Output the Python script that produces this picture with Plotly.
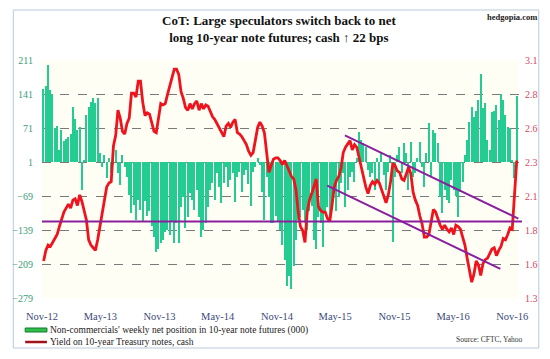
import datetime as dt
import plotly.graph_objects as go

# ---------------- data ----------------
start_date = dt.date(2012, 11, 6)
net_positions = [
    152, 158, 200, 150, 140, 72, 76, 26, 66, 44, 48, 52, 58, 115, 90, 66, 74, -56,
    5, 97, 114, 124, 132, 122, 132, 19, -9, 15, -32, 10, -22, -5, 26, -22, -46, 15,
    -10, -30, -67, -104, -87, -118, -77, -97, -122, -80, -110, -100, -130, -153, -185, -179,
    -165, -159, -144, -138, -150, -120, -165, -124, -165, -91, -71, -134, -112, -62, -77, -97,
    -56, -112, -153, -138, -124, -91, -56, -42, -77, -22, -50, -83, -42, -9, -50, -36,
    -22, -81, -30, -20, -60, -25, -15, -45, -90, -20, -10, 9, -5, -60, -118, -30,
    -71, -124, -124, -110, -120, -138, -170, -200, -255, -234, -261, -214, -159, -118, -112, -97,
    -124, -138, -100, -90, -159, -179, -112, -124, -173, -104, -91, -120, -80, -60, -100, -71,
    -42, -22, -91, -56, -30, -20, -40, 10, 62, 46, 40, 32, -15, -30, -22, -56,
    10, -40, 20, -25, -56, -20, 15, -163, -30, 15, 32, -22, 40, 19, -56, 42,
    -30, -22, 10, 42, -10, -50, 20, 81, -30, 67, 60, 40, -71, -104, -56, -77,
    -83, -36, -56, -70, -112, -60, -40, 15, 46, 83, 114, 93, 107, 128, 183, 112,
    122, 46, 26, 103, 107, 118, 87, 142, 128, 97, 73, 71, 5, -32, 136,
]
yields = [
    1.58, 1.66, 1.70, 1.69, 1.72, 1.75, 1.78, 1.84, 1.89, 1.95, 1.98, 2.01, 1.98, 2.04, 2.05, 2.00,
    2.08, 2.03, 1.96, 1.89, 1.74, 1.70, 1.68, 1.66, 1.74, 1.84, 1.93, 2.02, 2.14, 2.17, 2.18, 2.45,
    2.53, 2.72, 2.66, 2.56, 2.54, 2.62, 2.66, 2.85, 2.85, 2.82, 2.94, 2.94, 2.78, 2.68, 2.70, 2.69,
    2.63, 2.56, 2.55, 2.66, 2.77, 2.76, 2.77, 2.84, 2.90, 2.95, 3.03, 3.03, 2.99, 2.86, 2.81, 2.74,
    2.72, 2.77, 2.73, 2.77, 2.79, 2.72, 2.77, 2.73, 2.76, 2.75, 2.71, 2.67, 2.65, 2.62, 2.58, 2.56,
    2.52, 2.60, 2.62, 2.59, 2.63, 2.65, 2.55, 2.54, 2.52, 2.49, 2.46, 2.41, 2.38, 2.40, 2.50, 2.59,
    2.63, 2.60, 2.55, 2.40, 2.25, 2.30, 2.35, 2.36, 2.36, 2.34, 2.31, 2.34, 2.30, 2.25, 2.22, 2.20,
    2.12, 1.95, 1.84, 1.81, 1.72, 1.95, 2.04, 2.09, 2.15, 2.20, 1.99, 1.96, 1.95, 1.95, 1.90, 1.88,
    2.00, 2.14, 2.19, 2.22, 2.28, 2.40, 2.44, 2.47, 2.49, 2.42, 2.46, 2.44, 2.36, 2.30, 2.20, 2.14,
    2.09, 2.15, 2.18, 2.16, 2.19, 2.17, 2.12, 2.06, 2.02, 2.08, 2.18, 2.32, 2.30, 2.26, 2.25, 2.20,
    2.19, 2.24, 2.29, 2.24, 2.10, 2.04, 2.00, 1.92, 1.86, 1.76, 1.76, 1.78, 1.87, 1.97, 1.95, 1.90,
    1.85, 1.82, 1.85, 1.82, 1.80, 1.83, 1.78, 1.85, 1.84, 1.82, 1.75, 1.70, 1.60, 1.50, 1.42, 1.48,
    1.58, 1.55, 1.47, 1.56, 1.59, 1.60, 1.63, 1.67, 1.68, 1.62, 1.66, 1.69, 1.75, 1.74, 1.78, 1.83,
    1.82, 2.12, 2.34,
]
dates = [start_date + dt.timedelta(days=7 * i) for i in range(len(net_positions))]

# trend lines drawn on the chart (dates, yield levels)
upper_trend_dates = ["2015-05-31", "2016-11-20"]
upper_trend_yields = [2.53, 1.90]
lower_trend_dates = ["2015-04-06", "2016-09-25"]
lower_trend_yields = [2.15, 1.52]
support_level = 1.878

left_ticks = [-279, -209, -139, -69, 1, 71, 141, 211]
right_tick_text = ["1.3", "1.6", "1.8", "2.1", "2.3", "2.6", "2.8", "3.1"]
x_tick_dates = ["2012-11-01", "2013-05-01", "2013-11-01", "2014-05-01", "2014-11-01",
                "2015-05-01", "2015-11-01", "2016-05-01", "2016-11-01"]
x_tick_text = ["Nov-12", "May-13", "Nov-13", "May-14", "Nov-14", "May-15", "Nov-15", "May-16", "Nov-16"]

# ---------------- figure ----------------
W, H = 550, 359
ML, MR, MT, MB = 38, 30, 60, 61
PW, PH = W - ML - MR, H - MT - MB
lo, hi = left_ticks[0], left_ticks[-1]
ylo, yhi = float(right_tick_text[0]), float(right_tick_text[-1])
right_tick_vals = [ylo + (v - lo) / (hi - lo) * (yhi - ylo) for v in left_ticks]

def px(x):
    return (x - ML) / PW

def py(y):
    return (H - MB - y) / PH

serif = "Liberation Serif, Times New Roman, serif"

fig = go.Figure()
fig.add_trace(go.Bar(
    x=dates, y=net_positions, yaxis="y",
    marker=dict(color="#25cc91", line=dict(width=0)),
    width=4.0 * 86400000, showlegend=False,
))
fig.add_trace(go.Scatter(
    x=dates, y=yields, yaxis="y2", mode="lines",
    line=dict(color="#f0121c", width=2.8), showlegend=False,
))
fig.add_trace(go.Scatter(
    x=upper_trend_dates, y=upper_trend_yields, yaxis="y2", mode="lines",
    line=dict(color="#8a1f9e", width=2), showlegend=False,
))
fig.add_trace(go.Scatter(
    x=lower_trend_dates, y=lower_trend_yields, yaxis="y2", mode="lines",
    line=dict(color="#8a1f9e", width=2), showlegend=False,
))

shapes = [
    # support line extending slightly past the plot
    dict(type="line", xref="paper", yref="y2", x0=px(38), x1=px(523),
         y0=support_level, y1=support_level, line=dict(color="#8a1f9e", width=2), layer="above"),
    # outer border
    dict(type="rect", xref="paper", yref="paper", x0=px(9), x1=px(540), y0=py(10), y1=py(348),
         line=dict(color="#b9c9dc", width=1), fillcolor="rgba(0,0,0,0)", layer="below"),
    # legend swatches
    dict(type="rect", xref="paper", yref="paper", x0=px(21), x1=px(43), y0=py(332), y1=py(328),
         line=dict(color="#137a2e", width=1), fillcolor="#2fbf4a"),
    dict(type="line", xref="paper", yref="paper", x0=px(21), x1=px(43), y0=py(342), y1=py(342),
         line=dict(color="#a3111b", width=2.5)),
]

annotations = [
    dict(text="<b>CoT: Large speculators switch back to net<br>long 10-year note futures; cash \u2191 22 bps</b>",
         xref="paper", yref="paper", x=px(277), y=py(29), xanchor="center", yanchor="middle",
         showarrow=False, font=dict(family=serif, size=13, color="#111111"), align="center"),
    dict(text="<b>hedgopia.com</b>", xref="paper", yref="paper", x=px(540), y=py(17),
         xanchor="right", yanchor="middle", showarrow=False,
         font=dict(family=serif, size=8.5, color="#222222")),
    dict(text="Non-commercials' weekly net position in 10-year note futures (000)",
         xref="paper", yref="paper", x=px(44), y=py(330), xanchor="left", yanchor="middle",
         showarrow=False, font=dict(family=serif, size=9.5, color="#222222")),
    dict(text="Yield on 10-year Treasury notes, cash",
         xref="paper", yref="paper", x=px(44), y=py(342), xanchor="left", yanchor="middle",
         showarrow=False, font=dict(family=serif, size=9.5, color="#222222")),
    dict(text="Source: CFTC, Yahoo", xref="paper", yref="paper", x=px(526), y=py(339),
         xanchor="right", yanchor="middle", showarrow=False,
         font=dict(family=serif, size=7.5, color="#333333")),
]

fig.update_layout(
    width=W, height=H,
    margin=dict(l=ML, r=MR, t=MT, b=MB, pad=0),
    paper_bgcolor="white", plot_bgcolor="#fffef5",
    showlegend=False, bargap=0, hovermode=False,
    shapes=shapes, annotations=annotations,
    xaxis=dict(
        type="date", range=["2012-11-01", "2016-11-22"],
        tickvals=x_tick_dates, ticktext=x_tick_text,
        tickfont=dict(family=serif, size=10.5, color="#3b4878"),
        showgrid=False, zeroline=False, showline=False,
        ticks="outside", ticklen=8, tickcolor="rgba(0,0,0,0)",
    ),
    yaxis=dict(
        range=[lo, hi], tickvals=left_ticks,
        tickfont=dict(family=serif, size=10, color="#3a9c7c"),
        showgrid=True, gridcolor="#7a7a7a", griddash="dash", gridwidth=1,
        zeroline=False, showline=False,
        ticks="outside", ticklen=6, tickcolor="rgba(0,0,0,0)",
    ),
    yaxis2=dict(
        range=[ylo, yhi], overlaying="y", side="right",
        tickvals=right_tick_vals, ticktext=right_tick_text,
        tickfont=dict(family=serif, size=10, color="#d5485a"),
        showgrid=False, zeroline=False, showline=False,
        ticks="outside", ticklen=3, tickcolor="rgba(0,0,0,0)",
    ),
)

fig.write_html(
    "out.html",
    config={"displayModeBar": False},
    post_script="document.body.style.margin='0';document.body.style.overflow='hidden';",
)
